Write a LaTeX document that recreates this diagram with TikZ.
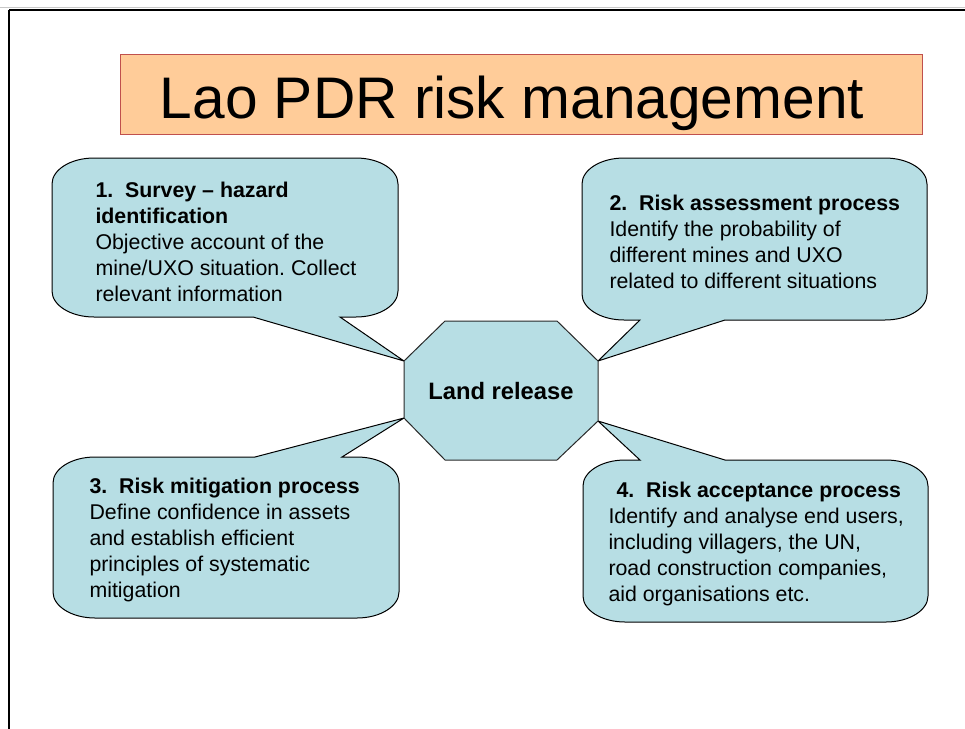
\documentclass[tikz,border=0pt]{standalone}
\usepackage{fontspec}
\setmainfont{Liberation Sans}
\frenchspacing
\tikzset{every picture/.style={line width=0.75pt}}
\tikzset{
  callout/.style={draw={rgb, 255:red, 0; green, 0; blue, 0 }, fill={rgb, 255:red, 183; green, 222; blue, 228 }, fill opacity=1},
  calltext/.style={anchor=north west, inner sep=0pt, align=left, font=\fontsize{16}{19.5}\selectfont},
}

\begin{document}
\begin{tikzpicture}[x=0.75pt,y=0.75pt,yscale=-1,xscale=1]
	\useasboundingbox (0,0) rectangle (965,729); %set diagram to the size of the slide

	%Straight Lines (slide frame)
	\draw [color={rgb, 255:red, 200; green, 200; blue, 200 }, line width=0.75] (0,7.5) -- (965,7.5) ;
	\draw [line width=1.5] (9.3,10) -- (965,10) ;
	\draw [line width=1.5] (9.3,10) -- (9.3,729) ;

	%Shape: Rectangle (title)
	\draw [color={rgb, 255:red, 192; green, 80; blue, 77 }, fill={rgb, 255:red, 255; green, 204; blue, 153 }, fill opacity=1] (120.5,54) rectangle (922,134) ;

	%Shape: Octagon corners
	\coordinate (o1) at (445,321);
	\coordinate (o2) at (557,321);
	\coordinate (o3) at (598,361);
	\coordinate (o4) at (598,421);
	\coordinate (o5) at (557,460);
	\coordinate (o6) at (445,460);
	\coordinate (o7) at (404,418);
	\coordinate (o8) at (404,361);

	%Shape: Rounded Callout (top left)
	\draw [callout] (94,158) -- (356,158) arc[start angle=-90, end angle=0, x radius=42, y radius=26] -- (398,291) arc[start angle=0, end angle=90, x radius=42, y radius=26] -- (340,317) -- (o8) -- (253,317) -- (94,317) arc[start angle=90, end angle=180, x radius=42, y radius=26] -- (52,184) arc[start angle=180, end angle=270, x radius=42, y radius=26] -- cycle ;
	%Shape: Rounded Callout (top right)
	\draw [callout] (624,158) -- (885,158) arc[start angle=-90, end angle=0, x radius=42, y radius=26] -- (927,294) arc[start angle=0, end angle=90, x radius=42, y radius=26] -- (725,320) -- (o3) -- (640,320) -- (624,320) arc[start angle=90, end angle=180, x radius=42, y radius=26] -- (582,184) arc[start angle=180, end angle=270, x radius=42, y radius=26] -- cycle ;
	%Shape: Rounded Callout (bottom left)
	\draw [callout] (95,457) -- (255,457) -- (o7) -- (342,457) -- (357,457) arc[start angle=-90, end angle=0, x radius=42, y radius=26] -- (399,592) arc[start angle=0, end angle=90, x radius=42, y radius=26] -- (95,618) arc[start angle=90, end angle=180, x radius=42, y radius=26] -- (53,483) arc[start angle=180, end angle=270, x radius=42, y radius=26] -- cycle ;
	%Shape: Rounded Callout (bottom right)
	\draw [callout] (625,460) -- (640,460) -- (o4) -- (725,460) -- (886,460) arc[start angle=-90, end angle=0, x radius=42, y radius=26] -- (928,596) arc[start angle=0, end angle=90, x radius=42, y radius=26] -- (625,622) arc[start angle=90, end angle=180, x radius=42, y radius=26] -- (583,486) arc[start angle=180, end angle=270, x radius=42, y radius=26] -- cycle ;

	%Shape: Octagon
	\draw [callout, draw={rgb, 255:red, 40; green, 40; blue, 40 }] (o1) -- (o2) -- (o3) -- (o4) -- (o5) -- (o6) -- (o7) -- (o8) -- cycle ;

	% Text Node
	\node (title) at (512,118.3) [anchor=base, inner sep=0pt, font=\fontsize{44}{50}\selectfont] {Lao PDR risk management};
	% Text Node
	\node (land) at (501,399.3) [anchor=base, inner sep=0pt, font=\bfseries\fontsize{17.8}{21}\selectfont] {Land release};
	% Text Node
	\node (survey) at (95,181.4) [calltext] {\textbf{1.\ \ Survey – hazard}\\\textbf{identification}\\Objective account of the\\mine/UXO situation. Collect\\relevant information};
	% Text Node
	\node (assess) at (609,194.4) [calltext] {\textbf{2.\ \ Risk assessment process}\\Identify the probability of\\different mines and UXO\\related to different situations};
	% Text Node
	\node (mitigate) at (89,477.4) [calltext] {\textbf{3.\ \ Risk mitigation process}\\Define confidence in assets\\and establish efficient\\principles of systematic\\mitigation};
	% Text Node
	\node (accept) at (608,481.4) [calltext] {\hspace*{6pt}\textbf{4.\ \ Risk acceptance process}\\Identify and analyse end users,\\including villagers, the UN,\\road construction companies,\\aid organisations etc.};

\end{tikzpicture}
\end{document}
